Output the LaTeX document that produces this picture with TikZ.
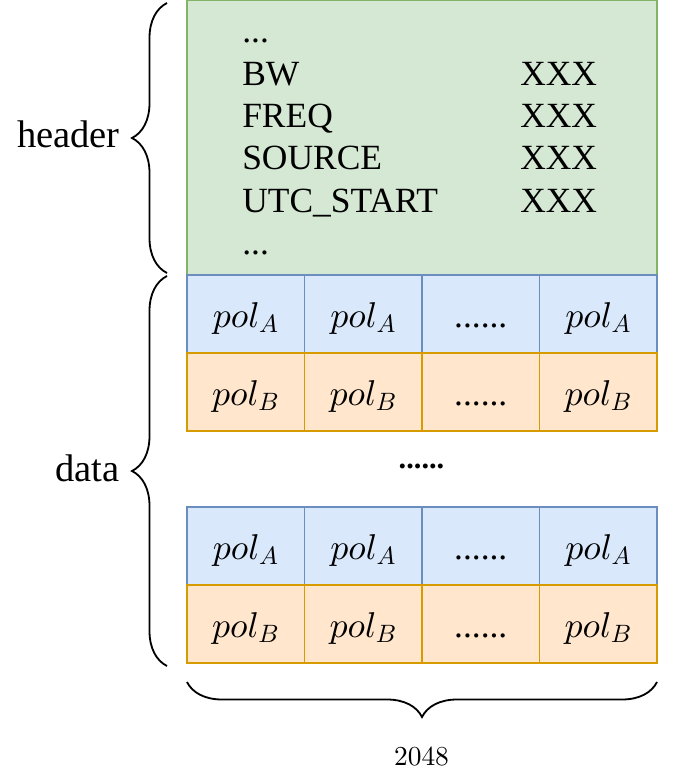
\documentclass[tikz,border=0pt]{standalone}
\usepackage[no-math]{fontspec}
\setmainfont{Liberation Serif}
\usepackage{amsmath}
\usepackage{xcolor}
\usepackage{tikz}
\usetikzlibrary{decorations.pathreplacing, calc}

% math at large sizes from the 10pt design, scaled
\DeclareFontShape{OML}{cmm}{m}{it}{<->cmmi10}{\skewchar\font'177}
\DeclareFontShape{OT1}{cmr}{m}{n}{<->cmr10}{}

\definecolor{hdrFill}{HTML}{D5E8D4}
\definecolor{hdrLine}{HTML}{82B366}
\definecolor{polAFill}{HTML}{DAE8FC}
\definecolor{polALine}{HTML}{6C8EBF}
\definecolor{polBFill}{HTML}{FFE6CC}
\definecolor{polBLine}{HTML}{D79B00}

\tikzset{
    cell/.style={minimum width=2.9375cm, minimum height=1.95cm, inner sep=0pt,
        line width=0.9pt, text height=0.75cm, text depth=0.1cm,
        font=\fontsize{25.5}{30}\selectfont},
    pola/.style={cell, draw=polALine, fill=polAFill},
    polb/.style={cell, draw=polBLine, fill=polBFill},
    hdrtext/.style={anchor=base west, inner sep=0pt, font=\fontsize{25.2}{30}\selectfont},
    sidelabel/.style={anchor=base east, inner sep=0pt, font=\fontsize{27.4}{33}\selectfont},
    curly/.style={decorate, decoration={brace, amplitude=0.875cm}, line width=1.3pt},
}

\begin{document}
\begin{tikzpicture}
    \useasboundingbox (0,0) rectangle (16.9,-19.35);

    % header block
    \node[draw=hdrLine, fill=hdrFill, line width=0.9pt, minimum width=11.75cm,
        minimum height=6.855cm, inner sep=0pt] (hdr) at (10.55,-3.4475) {};
    \node[hdrtext] (k0) at (6.05,-1.075) {...};
    \node[hdrtext] (k1) at (6.05,-2.1325) {BW};
    \node[hdrtext] (k2) at (6.05,-3.19) {FREQ};
    \node[hdrtext] (k3) at (6.05,-4.2475) {SOURCE};
    \node[hdrtext] (k4) at (6.05,-5.305) {UTC\_START};
    \node[hdrtext] (k5) at (6.05,-6.3625) {...};
    \node[hdrtext] (v1) at (13.0,-2.1325) {XXX};
    \node[hdrtext] (v2) at (13.0,-3.19) {XXX};
    \node[hdrtext] (v3) at (13.0,-4.2475) {XXX};
    \node[hdrtext] (v4) at (13.0,-5.305) {XXX};

    % data rows
    \foreach \row/\y/\sty/\sub in {1/-7.85/pola/A, 2/-9.8/polb/B, 3/-13.65/pola/A, 4/-15.6/polb/B}
        \foreach \col in {1,...,4}
            \node[\sty] (c\row\col) at ({4.675+(\col-0.5)*2.9375},\y)
                {\ifnum\col=3 \fontsize{25.2}{30}\selectfont......\else $pol_{\sub}$\fi};

    \node[anchor=base, inner sep=0pt, font=\fontsize{21.6}{26}\selectfont\bfseries] (gap) at (10.5375,-11.7) {......};

    % braces and labels
    \draw[curly] (4.175,-6.825) -- (4.175,-0.075);
    \draw[curly] (4.175,-16.65) -- (4.175,-6.9);
    \draw[curly] (16.425,-17.05) -- (4.675,-17.05);

    \node[sidelabel] (hlab) at (3.0,-3.7) {header};
    \node[sidelabel] (dlab) at (3.0,-12.04) {data};
    \node[anchor=base, inner sep=0pt, font=\fontsize{19.5}{24}\selectfont] (width) at (10.5375,-19.125) {$2048$};
\end{tikzpicture}
\end{document}
